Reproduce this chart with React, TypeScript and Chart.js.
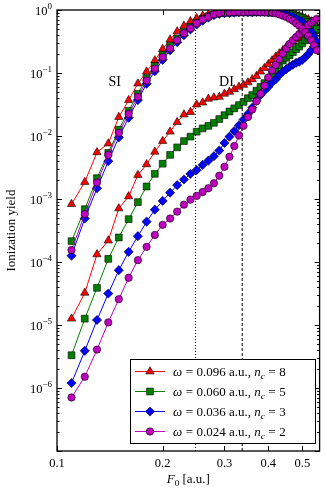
import React, { useEffect, useRef } from 'react';
import { Chart, registerables } from 'chart.js';

Chart.register(...registerables);

// ---------- data ----------
const fieldStrength = [
  0.11, 0.12, 0.13, 0.14, 0.15, 0.16, 0.17, 0.18, 0.19, 0.20,
  0.21, 0.22, 0.23, 0.24, 0.25, 0.26, 0.27, 0.28, 0.29, 0.30,
  0.31, 0.32, 0.33, 0.34, 0.35, 0.36, 0.37, 0.38, 0.39, 0.40,
  0.41, 0.42, 0.43, 0.44, 0.45, 0.46, 0.47, 0.48, 0.49, 0.50,
  0.51, 0.52, 0.53, 0.54, 0.55,
];

// single ionization yields
const siW096 = [
  8.3e-4, 1.86e-3, 5.5e-3, 7.6e-3, 0.020, 0.037, 0.068, 0.105, 0.158, 0.240,
  0.339, 0.457, 0.562, 0.661, 0.741, 0.813, 0.851, 0.871, 0.881, 0.89,
  0.89, 0.90, 0.90, 0.91, 0.91, 0.91, 0.91, 0.91, 0.90, 0.90,
  0.90, 0.90, 0.89, 0.89, 0.88, 0.87, 0.85, 0.83, 0.81, 0.78,
  0.74, 0.71, 0.66, 0.62, 0.56,
];
const siW060 = [
  2.14e-4, 6.9e-4, 2.14e-3, 5.4e-3, 0.0126, 0.0251, 0.0468, 0.0832, 0.129, 0.195,
  0.269, 0.355, 0.447, 0.537, 0.631, 0.724, 0.794, 0.851, 0.891, 0.90,
  0.91, 0.91, 0.92, 0.92, 0.92, 0.92, 0.92, 0.92, 0.92, 0.91,
  0.91, 0.91, 0.90, 0.90, 0.89, 0.87, 0.85, 0.81, 0.78, 0.74,
  0.69, 0.65, 0.60, 0.55, 0.50,
];
const siW036 = [
  1.26e-4, 4.9e-4, 1.48e-3, 3.98e-3, 9.5e-3, 0.0195, 0.0372, 0.0676, 0.107, 0.162,
  0.229, 0.309, 0.398, 0.490, 0.589, 0.676, 0.759, 0.832, 0.871, 0.891,
  0.90, 0.91, 0.92, 0.92, 0.92, 0.92, 0.93, 0.93, 0.93, 0.92,
  0.92, 0.92, 0.91, 0.89, 0.85, 0.81, 0.78, 0.72, 0.69, 0.65,
  0.575, 0.513, 0.447, 0.380, 0.316,
];
const siW024 = [
  1.55e-4, 5.75e-4, 1.82e-3, 5.0e-3, 0.0112, 0.0224, 0.0417, 0.0759, 0.117, 0.178,
  0.245, 0.331, 0.427, 0.513, 0.617, 0.708, 0.776, 0.851, 0.891, 0.912,
  0.92, 0.93, 0.93, 0.93, 0.94, 0.94, 0.94, 0.93, 0.93, 0.93,
  0.912, 0.891, 0.851, 0.813, 0.776, 0.724, 0.676, 0.617, 0.562, 0.501,
  0.447, 0.389, 0.331, 0.275, 0.229,
];

// double ionization yields
const diW096 = [
  1.26e-5, 3.24e-5, 1.32e-4, 2.19e-4, 7.08e-4, 1.10e-3, 2.40e-3, 3.55e-3, 5.62e-3, 8.32e-3,
  0.0117, 0.0166, 0.0219, 0.0240, 0.0316, 0.0339, 0.0389, 0.0407, 0.0417, 0.0468,
  0.0501, 0.0550, 0.0603, 0.0646, 0.0708, 0.0794, 0.0891, 0.105, 0.120, 0.138,
  0.158, 0.182, 0.204, 0.229, 0.257, 0.282, 0.309, 0.339, 0.363, 0.389,
  0.417, 0.447, 0.468, 0.490, 0.513,
];
const diW060 = [
  3.31e-6, 1.26e-5, 3.89e-5, 1.12e-4, 2.45e-4, 4.79e-4, 8.91e-4, 1.58e-3, 2.51e-3, 3.63e-3,
  5.01e-3, 6.61e-3, 8.32e-3, 9.77e-3, 0.0117, 0.0132, 0.0145, 0.0162, 0.0186, 0.0214,
  0.0245, 0.0275, 0.0309, 0.0347, 0.0398, 0.0447, 0.0525, 0.0603, 0.0692, 0.0794,
  0.0955, 0.112, 0.132, 0.158, 0.174, 0.191, 0.214, 0.240, 0.263, 0.295,
  0.331, 0.363, 0.398, 0.437, 0.479,
];
const diW036 = [
  1.20e-6, 3.89e-6, 1.20e-5, 3.16e-5, 7.41e-5, 1.45e-4, 2.57e-4, 4.37e-4, 6.76e-4, 9.33e-4,
  1.26e-3, 1.66e-3, 2.04e-3, 2.51e-3, 2.88e-3, 3.47e-3, 4.07e-3, 4.79e-3, 5.89e-3, 7.76e-3,
  9.77e-3, 0.0120, 0.0148, 0.0182, 0.0224, 0.0282, 0.0363, 0.0447, 0.0525, 0.0603,
  0.0708, 0.0794, 0.0933, 0.105, 0.115, 0.126, 0.135, 0.145, 0.151, 0.162,
  0.178, 0.200, 0.229, 0.263, 0.295,
];
const diW024 = [
  7.08e-7, 1.51e-6, 4.07e-6, 1.10e-5, 2.57e-5, 5.62e-5, 1.07e-4, 1.74e-4, 2.69e-4, 3.89e-4,
  4.90e-4, 6.31e-4, 8.13e-4, 9.77e-4, 1.12e-3, 1.29e-3, 1.48e-3, 1.78e-3, 2.34e-3, 3.24e-3,
  4.68e-3, 6.92e-3, 0.0102, 0.0145, 0.0200, 0.0263, 0.0355, 0.0468, 0.0631, 0.0851,
  0.110, 0.135, 0.166, 0.204, 0.245, 0.288, 0.331, 0.372, 0.417, 0.468,
  0.525, 0.575, 0.631, 0.676, 0.724,
];

const omegaLabels = ['0.096', '0.060', '0.036', '0.024'];
const cycleLabels = ['8', '5', '3', '2'];
const siSeries = [siW096, siW060, siW036, siW024];
const diSeries = [diW096, diW060, diW036, diW024];

const verticalLineFields = [0.248, 0.337];
const yTickExponents = [0, -1, -2, -3, -4, -5, -6];
const xTickValues = [0.1, 0.2, 0.3, 0.4, 0.5];
const xTickLabels = ['0.1', '0.2', '0.3', '0.4', '0.5'];

// ---------- style ----------
const seriesColors = ['#ff0000', '#008000', '#0000ff', '#bf00bf'];
const markerStyles = ['triangle', 'rect', 'rectRot', 'circle'];
const markerRadii = [4.8, 4.8, 4.6, 3.7];
const serif = '"Liberation Serif", "DejaVu Serif", serif';

type Part = { t?: string; it?: boolean; sub?: boolean; sup?: boolean; gap?: number };

function drawParts(ctx: CanvasRenderingContext2D, parts: Part[], x: number, y: number, size: number, draw = true) {
  let cx = x;
  for (const p of parts) {
    if (p.gap) { cx += p.gap; continue; }
    const small = p.sub || p.sup;
    const fs = small ? size * 0.7 : size;
    ctx.font = `${p.it ? 'italic ' : ''}${fs}px ${serif}`;
    const dy = p.sub ? size * 0.25 : p.sup ? -size * 0.4 : 0;
    if (draw) ctx.fillText(p.t || '', cx, y + dy);
    cx += ctx.measureText(p.t || '').width;
  }
  return cx - x;
}

function drawMarker(ctx: CanvasRenderingContext2D, style: string, x: number, y: number, r: number) {
  ctx.beginPath();
  if (style === 'triangle') {
    for (let k = 0; k < 3; k++) {
      const ang = (k * 2 * Math.PI) / 3;
      const px = x + Math.sin(ang) * r;
      const py = y - Math.cos(ang) * r;
      if (k === 0) ctx.moveTo(px, py); else ctx.lineTo(px, py);
    }
    ctx.closePath();
  } else if (style === 'rect') {
    const s = r * Math.SQRT1_2;
    ctx.rect(x - s, y - s, 2 * s, 2 * s);
  } else if (style === 'rectRot') {
    ctx.moveTo(x - r, y); ctx.lineTo(x, y - r); ctx.lineTo(x + r, y); ctx.lineTo(x, y + r); ctx.closePath();
  } else {
    ctx.arc(x, y, r, 0, Math.PI * 2);
  }
  ctx.fill();
  ctx.stroke();
}

const decorPlugin = {
  id: 'decor',
  afterDatasetsDraw(chart: any) {
    const { ctx, chartArea: a } = chart;
    const xs = chart.scales.x;
    const ys = chart.scales.y;
    ctx.save();
    ctx.strokeStyle = '#000';
    ctx.fillStyle = '#000';

    // ticks
    ctx.lineWidth = 1;
    ctx.beginPath();
    for (let e = -7; e <= 0; e++) {
      for (let m = 1; m <= 9; m++) {
        const v = m * Math.pow(10, e);
        if (v > 1.0001 || v < 0.99e-7) continue;
        const py = Math.round(ys.getPixelForValue(v)) + 0.5;
        const len = m === 1 ? 5 : 2.5;
        ctx.moveTo(a.left, py); ctx.lineTo(a.left + len, py);
        ctx.moveTo(a.right, py); ctx.lineTo(a.right - len, py);
      }
    }
    for (const v of xTickValues) {
      const px = Math.round(xs.getPixelForValue(v)) + 0.5;
      ctx.moveTo(px, a.bottom); ctx.lineTo(px, a.bottom - 5);
      ctx.moveTo(px, a.top); ctx.lineTo(px, a.top + 5);
    }
    ctx.stroke();

    // frame
    ctx.lineWidth = 1.3;
    ctx.strokeRect(a.left, a.top, a.right - a.left, a.bottom - a.top);

    // y tick labels
    ctx.textBaseline = 'alphabetic';
    ctx.textAlign = 'left';
    for (const e of yTickExponents) {
      const py = ys.getPixelForValue(Math.pow(10, e));
      const exp = e === 0 ? '0' : '\u2212' + String(-e);
      ctx.font = `9px ${serif}`;
      const we = ctx.measureText(exp).width;
      ctx.font = `12.5px ${serif}`;
      const wb = ctx.measureText('10').width;
      const right = a.left - 5;
      ctx.fillText('10', right - we - wb, py + 4.5);
      ctx.font = `9px ${serif}`;
      ctx.fillText(exp, right - we, py - 1.5);
    }

    // x tick labels
    ctx.textAlign = 'center';
    ctx.font = `12.5px ${serif}`;
    xTickValues.forEach((v, i) => {
      ctx.fillText(xTickLabels[i], xs.getPixelForValue(v), a.bottom + 16);
    });

    // x title
    ctx.textAlign = 'left';
    const xt: Part[] = [{ t: 'F', it: true }, { t: '0', sub: true }, { t: ' [a.u.]' }];
    const wt = drawParts(ctx, xt, 0, 0, 13, false);
    drawParts(ctx, xt, (a.left + a.right) / 2 - wt / 2, a.bottom + 32, 13);

    // y title
    ctx.save();
    ctx.translate(15, (a.top + a.bottom) / 2);
    ctx.rotate(-Math.PI / 2);
    ctx.textAlign = 'center';
    ctx.font = `13px ${serif}`;
    ctx.fillText('Ionization yield', 0, 0);
    ctx.restore();

    // SI / DI labels
    ctx.textAlign = 'center';
    ctx.textBaseline = 'middle';
    ctx.font = `14px ${serif}`;
    ctx.fillText('SI', xs.getPixelForValue(0.146), ys.getPixelForValue(0.072));
    ctx.fillText('DI', xs.getPixelForValue(0.304), ys.getPixelForValue(0.072));

    // legend
    const lx0 = 130, ly0 = 359, lx1 = 315, ly1 = 443;
    ctx.fillStyle = '#fff';
    ctx.fillRect(lx0, ly0, lx1 - lx0, ly1 - ly0);
    ctx.lineWidth = 1;
    ctx.strokeStyle = '#000';
    ctx.strokeRect(lx0 + 0.5, ly0 + 0.5, lx1 - lx0, ly1 - ly0);
    ctx.textAlign = 'left';
    ctx.textBaseline = 'alphabetic';
    for (let i = 0; i < 4; i++) {
      const ry = 371.5 + i * 20;
      ctx.strokeStyle = seriesColors[i];
      ctx.lineWidth = 1;
      ctx.beginPath();
      ctx.moveTo(135, ry); ctx.lineTo(165, ry);
      ctx.stroke();
      ctx.fillStyle = seriesColors[i];
      ctx.strokeStyle = '#000';
      ctx.lineWidth = 0.6;
      drawMarker(ctx, markerStyles[i], 150, ry, markerRadii[i]);
      ctx.fillStyle = '#000';
      const parts: Part[] = [
        { t: '\u03c9', it: true }, { gap: 3.5 }, { t: '=' }, { gap: 3.5 },
        { t: omegaLabels[i] + ' a.u., ' }, { t: 'n', it: true }, { t: 'c', it: true, sub: true },
        { gap: 3.5 }, { t: '=' }, { gap: 3.5 }, { t: cycleLabels[i] },
      ];
      drawParts(ctx, parts, 173, ry + 4.5, 13);
    }

    ctx.restore();
  },
};

export default function App() {
  const ref = useRef<HTMLCanvasElement>(null);
  useEffect(() => {
    document.body.style.margin = '0';
    const canvas = ref.current;
    if (!canvas) return;
    const datasets: any[] = [];
    verticalLineFields.forEach((f, i) => {
      datasets.push({
        data: [{ x: f, y: 1e-7 }, { x: f, y: 1 }],
        borderColor: '#000',
        borderWidth: 1,
        borderDash: i === 0 ? [1, 2] : [3, 2],
        pointRadius: 0,
        order: 10,
      });
    });
    for (let i = 0; i < 4; i++) {
      for (const arr of [siSeries[i], diSeries[i]]) {
        datasets.push({
          data: fieldStrength.map((x, k) => ({ x, y: arr[k] })),
          borderColor: seriesColors[i],
          borderWidth: 1,
          pointStyle: markerStyles[i],
          pointRadius: markerRadii[i],
          pointBackgroundColor: seriesColors[i],
          pointBorderColor: '#000',
          pointBorderWidth: 0.6,
          tension: 0,
          order: 4 - i,
        });
      }
    }
    const chart = new Chart(canvas, {
      type: 'line',
      data: { datasets },
      options: {
        responsive: false,
        animation: false,
        events: [],
        layout: { padding: { left: 57, right: 5, top: 10, bottom: 40 } },
        plugins: { legend: { display: false }, tooltip: { enabled: false } },
        scales: {
          x: {
            type: 'logarithmic', min: 0.1, max: 0.56,
            ticks: { display: false }, grid: { display: false, drawTicks: false }, border: { display: false },
          },
          y: {
            type: 'logarithmic', min: 1e-7, max: 1,
            ticks: { display: false }, grid: { display: false, drawTicks: false }, border: { display: false },
          },
        },
      } as any,
      plugins: [decorPlugin],
    });
    return () => chart.destroy();
  }, []);
  return <canvas ref={ref} width={325} height={491} style={{ display: 'block' }} />;
}
